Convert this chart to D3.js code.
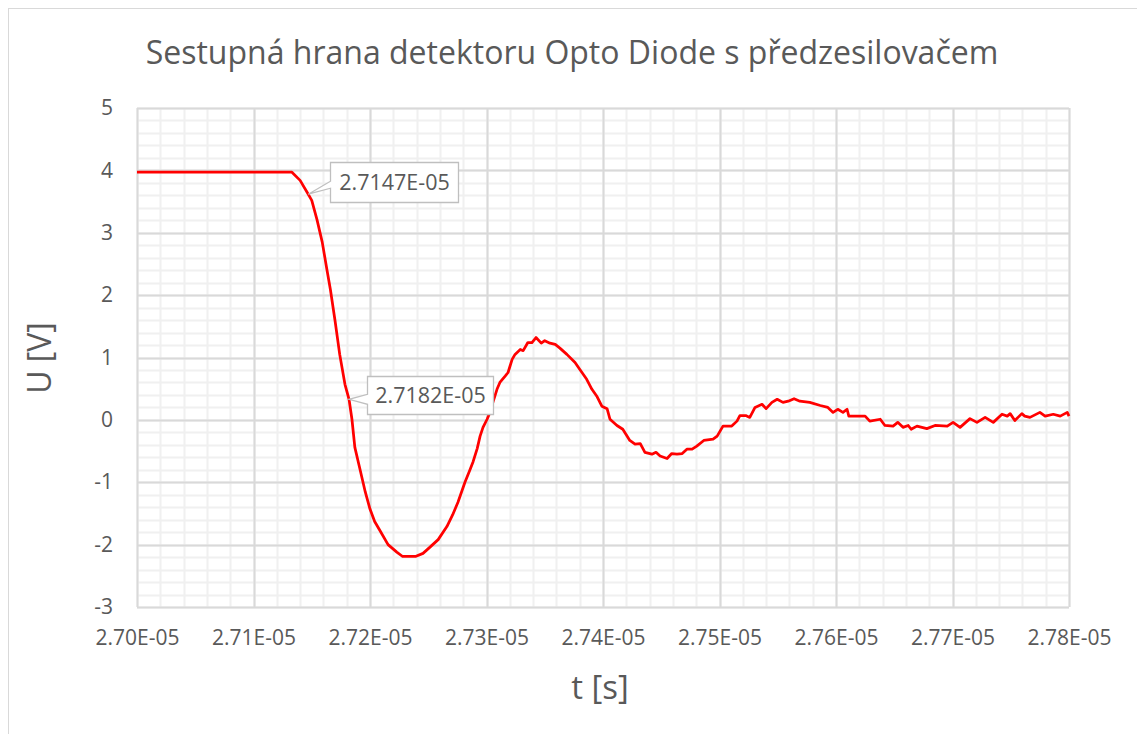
<!DOCTYPE html>
<html><head><meta charset="utf-8">
<script src="https://cdn.jsdelivr.net/npm/d3@7"></script>
<style>body{margin:0;background:#fff;}svg{display:block;font-family:"Open Sans",sans-serif;}</style>
</head><body>
<svg id="c" width="1137" height="734"></svg>
<script>
// ---- data ----
const title = "Sestupná hrana detektoru Opto Diode s předzesilovačem";
const xTitle = "t [s]";
const yTitle = "U [V]";
// time in ns (27000 ns = 2.70E-05 s)
const tNs = [27000,27133,27140,27146,27150,27154.5,27159,27163,27166,27170,27174,27178.5,27182,27184.5,27187,27191,27196,27200,27204,27209,27215.5,27223,27228,27239,27245.5,27251.5,27258.5,27266,27271,27275.5,27281.5,27286,27288.5,27292,27294.5,27297,27300.5,27303,27305.5,27309,27311.5,27316,27318.5,27322,27324.5,27329,27331.5,27335.5,27339,27342.5,27347,27350,27354.5,27359,27363,27369,27376,27380,27386,27390.5,27395,27399,27403.5,27406,27412,27417,27423,27427.5,27432,27436,27442,27445.5,27449,27455,27459,27463.5,27468,27472,27476.5,27480.5,27486.5,27494.5,27498,27503,27510.5,27515,27517.5,27522.5,27526,27530.5,27536.5,27540,27545,27549.5,27554.5,27559,27564,27569,27577.5,27586.5,27593,27597.5,27601.5,27606,27609.5,27611,27620.5,27625,27629,27638,27642,27649,27653,27657.5,27662,27664.5,27669.5,27678,27685,27695.5,27700.5,27706.5,27715,27721,27728,27735,27742.5,27747,27749.5,27753.5,27759.5,27762,27766.5,27775,27779.5,27786.5,27792.5,27798.5,27800];
const uV = [3.97,3.97,3.84,3.65,3.52,3.21,2.85,2.41,2.09,1.59,1.05,0.57,0.33,0.01,-0.44,-0.76,-1.16,-1.43,-1.63,-1.79,-2.00,-2.12,-2.19,-2.19,-2.14,-2.04,-1.92,-1.71,-1.52,-1.32,-1.00,-0.79,-0.67,-0.46,-0.26,-0.12,0.01,0.12,0.28,0.49,0.60,0.70,0.76,0.97,1.05,1.13,1.11,1.24,1.24,1.32,1.23,1.27,1.23,1.21,1.15,1.05,0.92,0.81,0.65,0.49,0.37,0.22,0.18,0.01,-0.09,-0.15,-0.33,-0.39,-0.38,-0.52,-0.55,-0.52,-0.58,-0.62,-0.54,-0.55,-0.54,-0.47,-0.47,-0.42,-0.33,-0.31,-0.26,-0.10,-0.10,-0.02,0.07,0.07,0.04,0.20,0.25,0.18,0.28,0.33,0.28,0.30,0.34,0.30,0.28,0.23,0.20,0.12,0.17,0.12,0.17,0.06,0.06,0.06,-0.02,0.01,-0.09,-0.10,-0.04,-0.12,-0.09,-0.15,-0.10,-0.14,-0.09,-0.10,-0.04,-0.12,0.02,-0.04,0.04,-0.04,0.09,0.06,0.10,-0.01,0.10,0.06,0.04,0.12,0.06,0.09,0.06,0.12,0.06,0.06];
const xTicks = [27000,27100,27200,27300,27400,27500,27600,27700,27800];
const xTickLabels = ["2.70E-05","2.71E-05","2.72E-05","2.73E-05","2.74E-05","2.75E-05","2.76E-05","2.77E-05","2.78E-05"];
const yTicks = [-3,-2,-1,0,1,2,3,4,5];
const annotTimes = [27147, 27182];
const annotLabels = ["2.7147E-05","2.7182E-05"];

// ---- layout ----
const L = 137, R = 1069, T = 108, B = 607;
const svg = d3.select("#c");
const x = d3.scaleLinear().domain([27000, 27800]).range([L, R]);
const y = d3.scaleLinear().domain([-3, 5]).range([B, T]);
const txt = "#595959";

// outer chart border
svg.append("rect").attr("x", 8.5).attr("y", 8.5).attr("width", 1160).attr("height", 760)
  .attr("fill", "#fff").attr("stroke", "#d9d9d9").attr("stroke-width", 1);

// minor gridlines
const g = svg.append("g");
const xMinor = d3.range(27000, 27800.1, 20);
const yMinor = d3.range(-3, 5.001, 0.2);
g.selectAll(".xm").data(xMinor).join("line")
  .attr("x1", d => Math.round(x(d)) + 0.5).attr("x2", d => Math.round(x(d)) + 0.5)
  .attr("y1", T).attr("y2", B).attr("stroke", "#f0f0f0").attr("stroke-width", 2);
g.selectAll(".ym").data(yMinor).join("line")
  .attr("y1", d => Math.round(y(d)) + 0.5).attr("y2", d => Math.round(y(d)) + 0.5)
  .attr("x1", L).attr("x2", R).attr("stroke", "#f0f0f0").attr("stroke-width", 2);
// major gridlines
g.selectAll(".xM").data(xTicks).join("line")
  .attr("x1", d => Math.round(x(d)) + 0.5).attr("x2", d => Math.round(x(d)) + 0.5)
  .attr("y1", T).attr("y2", B).attr("stroke", "#d9d9d9").attr("stroke-width", 2);
g.selectAll(".yM").data(yTicks).join("line")
  .attr("y1", d => Math.round(y(d)) + 0.5).attr("y2", d => Math.round(y(d)) + 0.5)
  .attr("x1", L).attr("x2", R).attr("stroke", "#d9d9d9").attr("stroke-width", 2);

// axes labels via d3 axes
const xAxis = d3.axisBottom(x).tickValues(xTicks).tickSize(0).tickPadding(0)
  .tickFormat((d, i) => xTickLabels[i]);
const xa = svg.append("g").attr("transform", `translate(0,${B + 31})`).call(xAxis);
xa.select(".domain").remove();
xa.selectAll("text").attr("fill", txt).style("font-family", '"Open Sans", sans-serif').style("font-size", "21px").attr("dy", "0.35em");

const yAxis = d3.axisLeft(y).tickValues(yTicks).tickSize(0).tickPadding(0).tickFormat(d3.format("d"));
const ya = svg.append("g").attr("transform", `translate(${L - 24},0)`).call(yAxis);
ya.select(".domain").remove();
ya.selectAll("text").attr("fill", txt).style("font-family", '"Open Sans", sans-serif').style("font-size", "21px").text(d => d < 0 ? "-" + Math.abs(d) : d);

// line
const line = d3.line().x((d, i) => x(tNs[i])).y(d => y(d)).curve(d3.curveLinear);
svg.append("path").datum(uV).attr("d", line).attr("fill", "none")
  .attr("stroke", "#ff0000").attr("stroke-width", 2.75).attr("stroke-linejoin", "round");

// annotations
function interpU(t) {
  for (let i = 1; i < tNs.length; i++) {
    if (tNs[i] >= t) {
      const f = (t - tNs[i - 1]) / (tNs[i] - tNs[i - 1]);
      return uV[i - 1] + f * (uV[i] - uV[i - 1]);
    }
  }
  return uV[uV.length - 1];
}
const boxOff = [{dx: 22, dy: -32, w: 128, h: 40, a1: -13, a2: -6}, {dx: 18, dy: -23, w: 126, h: 38, a1: -5, a2: 5}];
annotTimes.forEach((t, i) => {
  const px = x(t), py = y(interpU(t));
  const o = boxOff[i];
  const bx = Math.round(px + o.dx) + 0.5, by = Math.round(py + o.dy) + 0.5;
  const p = `M${bx},${by}H${bx + o.w}V${by + o.h}H${bx}V${py + o.a2}L${px},${py}L${bx},${py + o.a1}Z`;
  svg.append("path").attr("d", p).attr("fill", "#fff").attr("stroke", "#bfbfbf").attr("stroke-width", 1.3);
  svg.append("text").attr("x", bx + o.w / 2).attr("y", by + o.h / 2).attr("dy", "0.35em")
    .attr("text-anchor", "middle").attr("fill", txt).style("font-size", "21.5px").text(annotLabels[i]);
});

// titles
svg.append("text").attr("x", 572).attr("y", 64).attr("text-anchor", "middle").attr("fill", txt)
  .style("font-size", "32px").text(title);
svg.append("text").attr("x", 600).attr("y", 699).attr("text-anchor", "middle").attr("fill", txt)
  .style("font-size", "33px").text(xTitle);
svg.append("text").attr("transform", "translate(51,358) rotate(-90)").attr("text-anchor", "middle").attr("fill", txt)
  .style("font-size", "32px").text(yTitle);
</script>
</body></html>
